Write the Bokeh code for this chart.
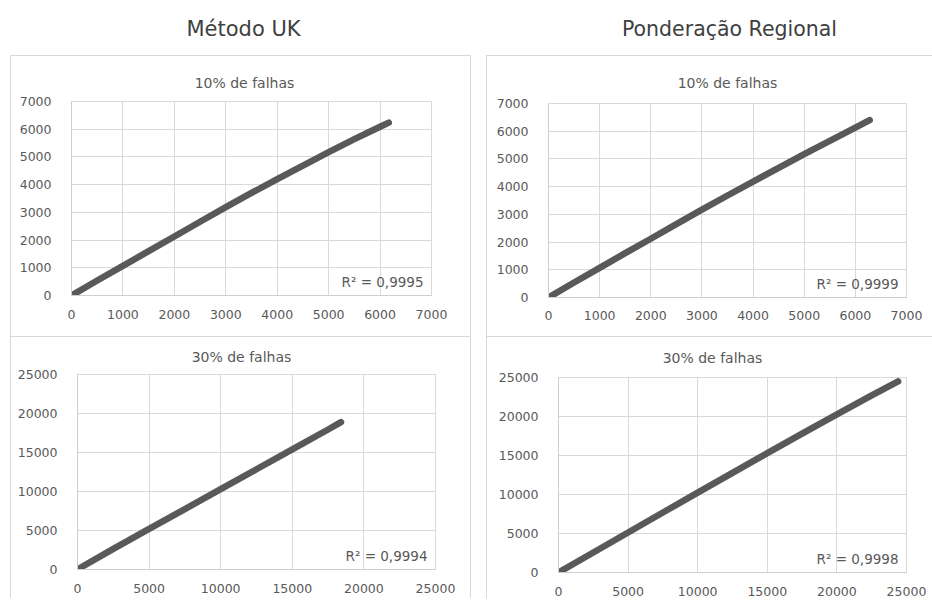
from bokeh.plotting import figure
from bokeh.layouts import row, column, Spacer
from bokeh.models import Range1d, FixedTicker, Label
from bokeh.embed import file_html
from bokeh.resources import INLINE

# ---- data ----
col_titles = ["Método UK", "Ponderação Regional"]
sub_titles = ["10% de falhas", "30% de falhas"]

ticks_10 = [0, 1000, 2000, 3000, 4000, 5000, 6000, 7000]
ticks_30 = [0, 5000, 10000, 15000, 20000, 25000]

uk10_x = [40, 500, 1000, 1500, 2000, 2500, 3000, 3500, 4000, 4500, 5000, 5500, 6000, 6170]
uk10_y = [40, 540, 1070, 1600, 2130, 2660, 3190, 3700, 4200, 4690, 5170, 5640, 6090, 6240]
uk10_r2 = "R² = 0,9995"

pr10_x = [30, 500, 1000, 1500, 2000, 2500, 3000, 3500, 4000, 4500, 5000, 5500, 6000, 6280]
pr10_y = [30, 540, 1070, 1600, 2120, 2650, 3170, 3680, 4180, 4680, 5170, 5650, 6130, 6400]
pr10_r2 = "R² = 0,9999"

uk30_x = [50, 2500, 5000, 7500, 10000, 12500, 15000, 17500, 18400]
uk30_y = [70, 2650, 5200, 7750, 10300, 12850, 15400, 17950, 18900]
uk30_r2 = "R² = 0,9994"

pr30_x = [0, 2500, 5000, 7500, 10000, 12500, 15000, 17500, 20000, 22500, 24400]
pr30_y = [0, 2570, 5130, 7690, 10240, 12780, 15300, 17800, 20270, 22700, 24500]
pr30_r2 = "R² = 0,9998"

FONT = "DejaVu Sans"
GRID = "#d9d9d9"
TXT = "#595959"
LINE = "#595959"
BORDER = "1px solid #d9d9d9"


def text_strip(title, width, height, center_x, center_y, size, color):
    p = figure(width=width, height=height, x_range=Range1d(0, 1), y_range=Range1d(0, 1),
               toolbar_location=None, output_backend="svg", min_border=0)
    p.axis.visible = False
    p.grid.visible = False
    p.outline_line_color = None
    p.add_layout(Label(x=center_x, y=height - center_y, x_units="screen", y_units="screen",
                       text=title, text_font=FONT, text_font_size=size, text_color=color,
                       text_align="center", text_baseline="middle"))
    return p


def panel(xs, ys, r2, title, ticks, vmax, width, head_h, title_cx, title_cy,
          height, left, right, top, bottom, standoff_x, border_right=True):
    # the column aligns the strip's frame with the plot frame, so offset by `left`
    strip = text_strip(title, width, head_h, title_cx - left, title_cy, "14px", TXT)
    p = figure(width=width, height=height, x_range=Range1d(0, vmax), y_range=Range1d(0, vmax),
               toolbar_location=None, output_backend="svg",
               min_border_left=left, min_border_right=right,
               min_border_top=top, min_border_bottom=bottom)
    p.xaxis.ticker = FixedTicker(ticks=ticks)
    p.yaxis.ticker = FixedTicker(ticks=ticks)
    for ax in (p.xaxis, p.yaxis):
        ax.major_tick_line_color = None
        ax.minor_tick_line_color = None
        ax.axis_line_color = "#cfcfcf"
        ax.major_label_text_font = FONT
        ax.major_label_text_font_size = "12.5px"
        ax.major_label_text_color = TXT
    p.yaxis.major_label_standoff = 14
    p.xaxis.major_label_standoff = standoff_x
    p.grid.grid_line_color = GRID
    p.outline_line_color = GRID
    p.line(xs, ys, line_color=LINE, line_width=6.5, line_cap="round", line_join="round")

    fw = width - left - right
    p.add_layout(Label(x=fw - 8, y=14, x_units="screen", y_units="screen", text=r2,
                       text_font=FONT, text_font_size="13.5px", text_color=TXT,
                       text_align="right", text_baseline="middle"))
    box = column(strip, p)
    st = {"border-top": BORDER, "border-left": BORDER}
    if border_right:
        st["border-right"] = BORDER
    box.styles = st
    return box


h1 = text_strip(col_titles[0], 459, 55, 243 - 10, 28, "21px", "#404040")
h2 = text_strip(col_titles[1], 446, 55, 729 - 484, 28, "20.5px", "#404040")

p1 = panel(uk10_x, uk10_y, uk10_r2, sub_titles[0], ticks_10, 7000,
           459, 36, 233, 26, 244, 60, 39, 9, 41, 8)
p2 = panel(pr10_x, pr10_y, pr10_r2, sub_titles[0], ticks_10, 7000,
           446, 36, 240, 26, 244, 61, 27, 11, 39, 7, border_right=False)
p3 = panel(uk30_x, uk30_y, uk30_r2, sub_titles[1], ticks_30, 25000,
           459, 29, 230, 19, 232, 66, 35, 8, 29, 8)
p4 = panel(pr30_x, pr30_y, pr30_r2, sub_titles[1], ticks_30, 25000,
           446, 30, 225, 20, 232, 71, 27, 10, 27, 8, border_right=False)

layout = column(
    row(Spacer(width=10), h1, Spacer(width=15), h2),
    row(Spacer(width=10), p1, Spacer(width=15), p2),
    row(Spacer(width=10), p3, Spacer(width=15), p4),
)

open("out.html", "w").write(file_html(layout, INLINE))
